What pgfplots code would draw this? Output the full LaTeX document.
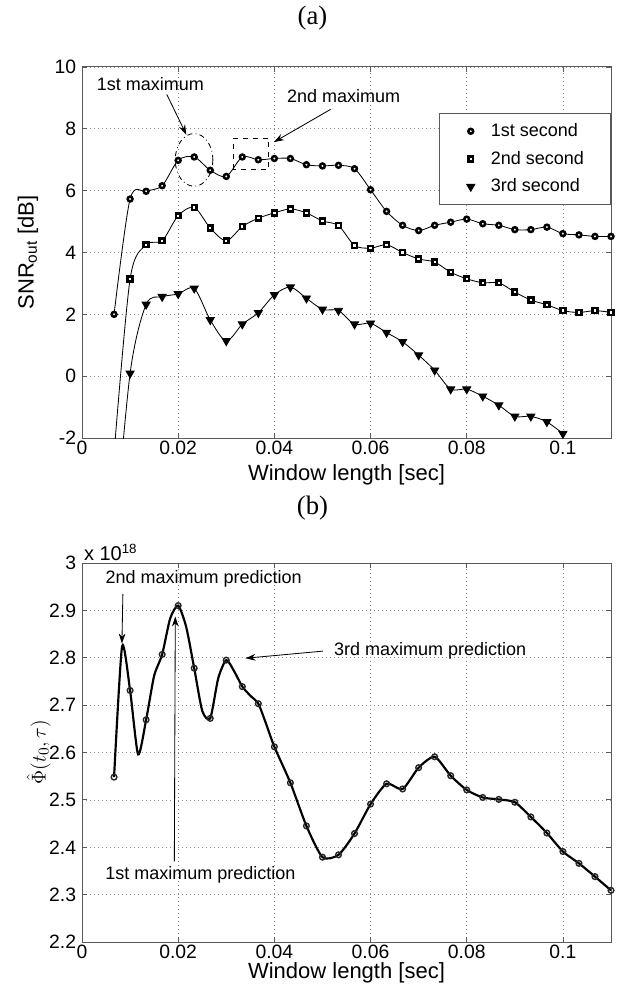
\documentclass[border=0pt]{standalone}
\usepackage{fontspec}
\setmainfont{Liberation Sans}
\newfontfamily\serifa{Liberation Serif}
\usepackage{pgfplots}
\pgfplotsset{compat=1.18}
\usepackage{pgfplotstable}
\usetikzlibrary{arrows.meta}

\pgfplotstableread{
x s1 s2 s3
0.006667 2.00 -2.5 -5.5
0.010000 5.73 3.14 0.09
0.013333 5.98 4.25 2.32
0.016667 6.16 4.38 2.57
0.020000 6.98 5.19 2.66
0.023333 7.09 5.46 2.84
0.026667 6.66 4.79 1.82
0.030000 6.46 4.38 1.14
0.033333 7.09 4.84 1.68
0.036667 7.00 5.11 2.05
0.040000 7.04 5.28 2.63
0.043333 7.04 5.41 2.88
0.046667 6.84 5.28 2.52
0.050000 6.80 5.02 2.16
0.053333 6.82 4.87 2.12
0.056667 6.71 4.23 1.68
0.060000 6.03 4.14 1.71
0.063333 5.33 4.25 1.41
0.066667 4.88 4.00 1.11
0.070000 4.71 3.79 0.68
0.073333 4.88 3.69 0.19
0.076667 4.98 3.36 -0.42
0.080000 5.08 3.15 -0.42
0.083333 4.93 3.02 -0.65
0.086667 4.88 3.02 -0.94
0.090000 4.74 2.72 -1.30
0.093333 4.74 2.46 -1.30
0.096667 4.82 2.31 -1.48
0.100000 4.61 2.12 -1.86
0.103333 4.57 2.06 nan
0.106667 4.52 2.12 nan
0.110000 4.52 2.06 nan
}\snrdata

\pgfplotstableread{
x y
0.006667 2.548
0.008333 2.824
0.010000 2.731
0.011667 2.596
0.013333 2.669
0.015000 2.762
0.016667 2.807
0.018333 2.883
0.020000 2.910
0.021667 2.865
0.023333 2.778
0.025000 2.688
0.026667 2.672
0.028333 2.757
0.030000 2.795
0.031667 2.771
0.033333 2.739
0.035000 2.720
0.036667 2.703
0.038333 2.659
0.040000 2.612
0.043333 2.536
0.046667 2.445
0.050000 2.379
0.053333 2.384
0.056667 2.429
0.060000 2.491
0.063333 2.534
0.066667 2.523
0.070000 2.568
0.073333 2.591
0.076667 2.551
0.080000 2.521
0.083333 2.505
0.086667 2.501
0.090000 2.495
0.093333 2.464
0.096667 2.430
0.100000 2.391
0.103333 2.366
0.106667 2.338
0.110000 2.309
}\philine

\pgfplotstableread{
x y
0.006667 2.548
0.010000 2.731
0.013333 2.669
0.016667 2.807
0.020000 2.910
0.023333 2.778
0.026667 2.672
0.030000 2.795
0.033333 2.739
0.036667 2.703
0.040000 2.612
0.043333 2.536
0.046667 2.445
0.050000 2.379
0.053333 2.384
0.056667 2.429
0.060000 2.491
0.063333 2.534
0.066667 2.523
0.070000 2.568
0.073333 2.591
0.076667 2.551
0.080000 2.521
0.083333 2.505
0.086667 2.501
0.090000 2.495
0.093333 2.464
0.096667 2.430
0.100000 2.391
0.103333 2.366
0.106667 2.338
0.110000 2.309
}\phimarks

\newcommand\annfont{\fontsize{10.8}{13}\selectfont}

\tikzset{
  arr/.style={-{Stealth[length=6pt,width=4pt]}, black, line width=0.5pt},
}
\pgfplotsset{
  common/.style={
    scale only axis, width=317.4pt,
    clip mode=individual,
    xmin=0, xmax=0.11,
    xtick={0,0.02,0.04,0.06,0.08,0.1},
    xticklabels={0,0.02,0.04,0.06,0.08,0.1},
    scaled x ticks=false, scaled y ticks=false,
    grid=major,
    major grid style={dotted, black!45, line width=0.45pt},
    tick align=inside, major tick length=3pt,
    axis line style={black!65, line width=0.6pt},
    every tick/.style={black!65, line width=0.5pt},
    tick label style={font=\fontsize{11.6}{14}\selectfont},
    xticklabel style={inner sep=1.5pt},
    label style={font=\fontsize{13.2}{16}\selectfont},
    xlabel={Window length [sec]},
    legend cell align=left,
  },
  m1/.style={mark=*, mark size=1.45pt, mark options={draw=black, fill=white, line width=1.5pt, solid}},
  m2/.style={mark=square*, mark size=1.45pt, mark options={draw=black, fill=white, line width=1.5pt, solid}},
  m3/.style={mark=triangle*, mark size=2.8pt, mark options={draw=black, fill=black, line width=0.5pt, rotate=180, solid}},
  legmark/.style={legend image code/.code={%
     \path[draw=none] (0pt,0pt) (24pt,0pt);
     \draw[##1] plot coordinates {(14pt,0pt)};}},
}

\begin{document}
\begin{tikzpicture}
\path[use as bounding box] (0pt,0pt) rectangle (375pt,-590.4pt);
\node[font=\serifa\fontsize{16}{18}\selectfont] at (187.5pt,-11pt) {(a)};
\node[font=\serifa\fontsize{16}{18}\selectfont] at (187.5pt,-305pt) {(b)};

\begin{axis}[common,
  at={(49.2pt,-40.2pt)}, anchor=north west, height=222.6pt,
  ymin=-2, ymax=10,
  ytick={-2,0,2,4,6,8,10},
  yticklabels={-2,0,2,4,6,8,10},
  xlabel style={at={(axis description cs:0.5,-0.070)}, anchor=north, inner sep=0pt},
  ylabel={SNR\textsubscript{out} [dB]},
  ylabel style={at={(axis description cs:-0.102,0.5)}, anchor=center},
  legend style={at={(1,0.876)}, anchor=north east, draw=black!65, fill=white,
    font=\annfont, inner xsep=5pt, inner ysep=4pt, row sep=3.3pt,
    line width=0.6pt},
]
\addlegendimage{m1, legmark}
\addlegendentry{1st second\hspace*{9pt}}
\addlegendimage{m2, legmark}
\addlegendentry{2nd second\hspace*{9pt}}
\addlegendimage{m3, legmark}
\addlegendentry{3rd second\hspace*{9pt}}

\addplot[black, line width=0.5pt, smooth, no marks, forget plot] table[x=x,y=s1] {\snrdata};
\addplot[black, line width=0.5pt, smooth, no marks, forget plot] table[x=x,y=s2] {\snrdata};
\addplot[black, line width=0.5pt, smooth, no marks, forget plot] table[x=x,y=s3] {\snrdata};
\addplot[only marks, m1, forget plot, restrict y to domain=-2:10] table[x=x,y=s1] {\snrdata};
\addplot[only marks, m2, forget plot, restrict y to domain=-2:10] table[x=x,y=s2] {\snrdata};
\addplot[only marks, m3, forget plot, restrict y to domain=-2:10] table[x=x,y=s3] {\snrdata};

\node[font=\annfont] at (axis cs:0.0142,9.44) {1st maximum};
\draw[arr] (axis cs:0.01764,9.11) -- (axis cs:0.0217,7.81);
\draw[black, line width=0.5pt, dash dot] (axis cs:0.0233,6.995) ellipse [x radius=11.3pt, y radius=15.8pt];
\draw[black, line width=0.5pt, dashed] (axis cs:0.0315,6.70) rectangle (axis cs:0.0388,7.70);
\node[font=\annfont] at (axis cs:0.0544,9.06) {2nd maximum};
\draw[arr] (axis cs:0.0517,8.63) -- (axis cs:0.0399,7.57);
\end{axis}

\begin{axis}[common,
  at={(49.2pt,-337.8pt)}, anchor=north west, height=227.4pt,
  ymin=2.2, ymax=3,
  ytick={2.2,2.3,2.4,2.5,2.6,2.7,2.8,2.9,3},
  yticklabels={2.2,2.3,2.4,2.5,2.6,2.7,2.8,2.9,3},
  xlabel style={at={(axis description cs:0.5,-0.1115)}, anchor=south, inner sep=0.3pt},
  ylabel={$\hat{\Phi}(t_0,\tau)$},
  ylabel style={at={(axis description cs:-0.082,0.5)}, anchor=center},
]
\addplot[black, line width=1.3pt, smooth, tension=0.4, no marks] table[x=x,y=y] {\philine};
\addplot[only marks, mark=o, mark size=1.7pt, mark options={draw=black!85, line width=0.85pt}] table[x=x,y=y] {\phimarks};

\node[font=\annfont] at (axis cs:0.0253,2.966) {2nd maximum prediction};
\draw[arr] (axis cs:0.0085,2.935) -- (axis cs:0.0083,2.83);
\draw[arr] (axis cs:0.0192,2.37) -- (axis cs:0.0194,2.887);
\node[font=\annfont] at (axis cs:0.0246,2.341) {1st maximum prediction};
\draw[arr] (axis cs:0.0501,2.814) -- (axis cs:0.034,2.799);
\node[font=\annfont, anchor=west] at (axis cs:0.0512,2.815) {3rd maximum prediction};
\node[font=\fontsize{12}{14}\selectfont, anchor=south west, inner sep=1pt] at (rel axis cs:0,1) {x 10\textsuperscript{18}};
\end{axis}
\end{tikzpicture}
\end{document}
